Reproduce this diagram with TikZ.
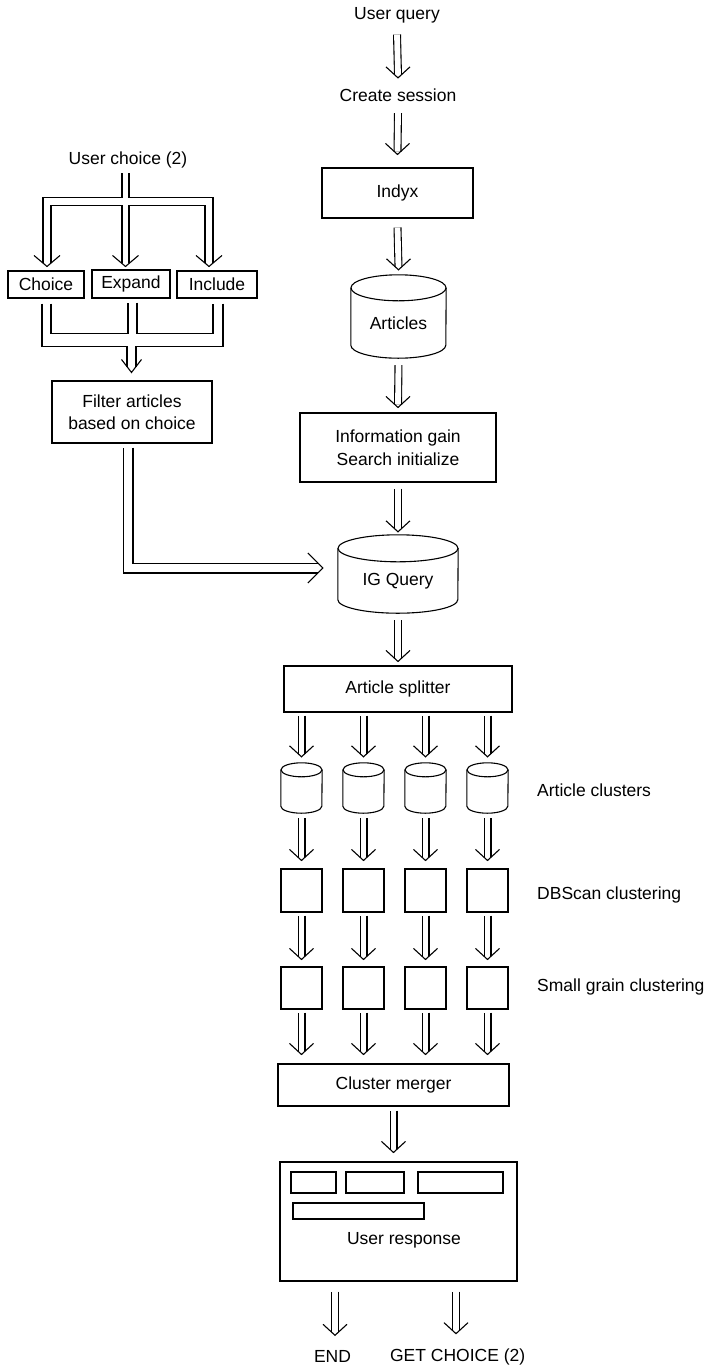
\documentclass[tikz,border=0pt]{standalone}
\usepackage{fontspec}
\setmainfont{Liberation Sans}
\usetikzlibrary{calc}

\tikzset{
  outline/.style={draw=black, line width=1.1pt},
  box/.style={outline, rectangle, inner sep=0pt, align=center},
  plain/.style={inner sep=0pt, align=center},
  drumbody/.style={rectangle, inner sep=0pt, align=center},
  dbl/.style={draw=black, line width=1.1pt, double=white, double distance=5.8pt},
  widedbl/.style={dbl, double distance=8.8pt},
  vee/.style={draw=black, line width=1.1pt, line join=miter},
}

% cylinder outline around a node: #1 node, #2 x radius, #3 y radius of the end caps
\newcommand\drum[3]{%
  \draw[outline] (#1.north) ellipse [x radius=#2pt, y radius=#3pt];
  \draw[outline] (#1.north west) -- ($(#1.south west)+(0,-#3)$)
    arc[start angle=180, end angle=360, x radius=#2pt, y radius=#3pt]
    -- (#1.north east);
}
% open arrow head pointing down: #1 tip, #2 half width, #3 height
\newcommand\vhead[3]{\draw[vee] ($(#1)+(-#2,-#3)$) -- (#1) -- ($(#1)+(#2,-#3)$);}
% double-line flow downwards: #1 source point, #2 gap below it, #3 target point, #4 gap above it
\newcommand\flow[4]{%
  \draw[dbl] ($(#1)+(0,#2)$) -- ($(#3)+(0,-#4-3)$);
  \draw[vee] ($(#3)+(-12,-#4-11)$) -- ($(#3)+(0,-#4)$) -- ($(#3)+(12,-#4-11)$);
}

\begin{document}
\begin{tikzpicture}[x=1pt, y=-1pt, font=\fontsize{17.5}{22}\selectfont]
\useasboundingbox (0,0) rectangle (708,1369);

% ---------------- main column ----------------
\node[plain] (uq) at (397,15.5) {User query};
\node[plain] (cs) at (398,95.5) {Create session};
\node[box, minimum width=151pt, minimum height=50pt] (indyx) at (397.5,193) {Indyx};
\node[drumbody, minimum width=95pt, minimum height=70pt] (art) at (398.5,323) {Articles};
\drum{art}{47.5}{13}
\node[box, minimum width=196pt, minimum height=69pt, font=\fontsize{17.5}{23}\selectfont]
  (info) at (398,447.5) {Information gain\\Search initialize};
\node[drumbody, minimum width=120pt, minimum height=64.5pt] (igq) at (398,580.75) {IG Query};
\drum{igq}{60}{13.5}
\node[box, minimum width=228pt, minimum height=46pt] (split) at (398,689) {Article splitter};

\flow{uq.south}{11}{cs.north}{11}
\flow{cs.south}{11}{indyx.north}{13}
\flow{indyx.south}{9}{art.north}{18}
\flow{art.south}{7}{info.north}{5}
\flow{info.south}{6}{igq.north}{16.5}
\flow{igq.south}{7}{split.north}{4}

% ---------------- four parallel branches ----------------
\foreach \i/\x in {1/301.5, 2/363.5, 3/425.5, 4/487.5} {
  \node[drumbody, minimum width=41pt, minimum height=43pt] (c\i) at (\x,791.5) {};
  \drum{c\i}{20.5}{7}
  \node[box, minimum width=41pt, minimum height=43pt] (db\i) at (\x,890.5) {};
  \node[box, minimum width=41pt, minimum height=42pt] (sg\i) at (\x,988) {};
}
\node[plain, anchor=west] (lclust) at (537,790) {Article clusters};
\node[plain, anchor=west] (ldbs) at (537,894.5) {DBScan clustering};
\node[plain, anchor=west] (lsmall) at (537,986.5) {Small grain clustering};

\node[box, minimum width=231pt, minimum height=42pt] (merge) at (393.5,1085) {Cluster merger};

\foreach \i in {1,2,3,4} {
  \flow{c\i |- split.south}{3}{c\i.north}{13}
  \flow{c\i.south}{5}{db\i.north}{8}
  \flow{db\i.south}{3}{sg\i.north}{7}
  \flow{sg\i.south}{3}{sg\i |- merge.north}{9}
}

% ---------------- user response ----------------
\node[box, minimum width=237pt, minimum height=119pt] (resp) at (398.5,1221.5) {};
\node[box, minimum width=45pt, minimum height=21pt] (r1) at (313.5,1182.5) {};
\node[box, minimum width=58pt, minimum height=21pt] (r2) at (375,1182.5) {};
\node[box, minimum width=85pt, minimum height=21pt] (r3) at (460.5,1182.5) {};
\node[box, minimum width=131pt, minimum height=16pt] (r4) at (358.5,1211) {};
\node[plain] (resptext) at (404,1240.5) {User response};
\node[plain] (endt) at (332.5,1356.5) {END};
\node[plain] (gc) at (457.7,1357) {GET CHOICE (2)};

\flow{merge.south}{4}{merge.south |- resp.north}{9}
\coordinate (e0) at ($(endt.north)+(2.5,0)$);
\coordinate (g0) at ($(gc.north)+(-1.7,0)$);
\flow{e0 |- resp.south}{10}{e0}{15}
\flow{g0 |- resp.south}{10}{g0}{15}

% ---------------- user choice branch ----------------
\node[plain] (uc) at (128,160) {User choice (2)};
\node[box, minimum width=76pt, minimum height=27pt] (choice) at (46,284.5) {Choice};
\node[box, minimum width=78pt, minimum height=28pt] (expand) at (131,284) {Expand};
\node[box, minimum width=80pt, minimum height=27pt] (include) at (217,284.5) {Include};
\node[box, minimum width=160pt, minimum height=62pt] (filter) at (132,412)
  {Filter articles\\based on choice};

% fork from the user choice into three options
\coordinate (fs) at ($(uc.south)+(-2.5,5)$);
\coordinate (fj) at ($(fs)+(0,28)$);
\coordinate (tL) at ($(choice.north)+(1,-4)$);
\coordinate (tM) at ($(expand.north)+(-5.5,-3)$);
\coordinate (tR) at ($(include.north)+(-8,-4)$);
\draw[outline] ($(fs)+(-3.5,0)$) -- ($(fj)+(-3.5,-4)$) -- ($(fj -| tL)+(-4,-4)$) -- ($(tL)+(-4,-3)$);
\draw[outline] ($(fs)+(3.5,0)$) -- ($(fj)+(3.5,-4)$) -- ($(fj -| tR)+(4,-4)$) -- ($(tR)+(4,-3)$);
\draw[outline] ($(tL)+(4,-3)$) -- ($(fj -| tL)+(4,4)$) -- ($(fj)+(-3.5,4)$) -- ($(tM)+(-3.5,-3)$);
\draw[outline] ($(tM)+(3.5,-3)$) -- ($(fj)+(3.5,4)$) -- ($(fj -| tR)+(-4,4)$) -- ($(tR)+(-4,-3)$);
\vhead{tL}{13}{11}
\vhead{tM}{13}{11}
\vhead{tR}{13}{11}

% merge of the three options into the filter
\coordinate (mo) at ($(filter.north)+(-0.5,-8)$);
\coordinate (mj) at ($(mo)+(0,-32.5)$);
\coordinate (bL) at ($(choice.south)+(0.5,5)$);
\coordinate (bM) at ($(expand.south)+(1.5,4)$);
\coordinate (bR) at ($(include.south)+(1,5)$);
\draw[outline] ($(bL)+(-4.5,0)$) -- ($(bL |- mj)+(-4.5,6.2)$) -- ($(mj)+(-4.5,6.2)$) -- ($(mo)+(-4.5,-5)$);
\draw[outline] ($(bR)+(5,0)$) -- ($(bR |- mj)+(5,6.2)$) -- ($(mj)+(4.5,6.2)$) -- ($(mo)+(4.5,-5)$);
\draw[outline] ($(bL)+(4.5,0)$) -- ($(bL |- mj)+(4.5,-6.2)$) -- ($(bM |- mj)+(-4.5,-6.2)$) -- ($(bM)+(-4.5,0)$);
\draw[outline] ($(bM)+(4.5,0)$) -- ($(bM |- mj)+(4.5,-6.2)$) -- ($(bR |- mj)+(-5,-6.2)$) -- ($(bR)+(-5,0)$);
\vhead{mo}{10}{13}

% filtered articles feed the IG query
\draw[widedbl] ($(filter.south)+(-4,4)$) |- ($(igq.west)+(-20,-12.75)$);
\draw[vee] ($(igq.west)+(-30,-27.75)$) -- ($(igq.west)+(-15,-12.75)$) -- ($(igq.west)+(-30,2.25)$);
\end{tikzpicture}
\end{document}
